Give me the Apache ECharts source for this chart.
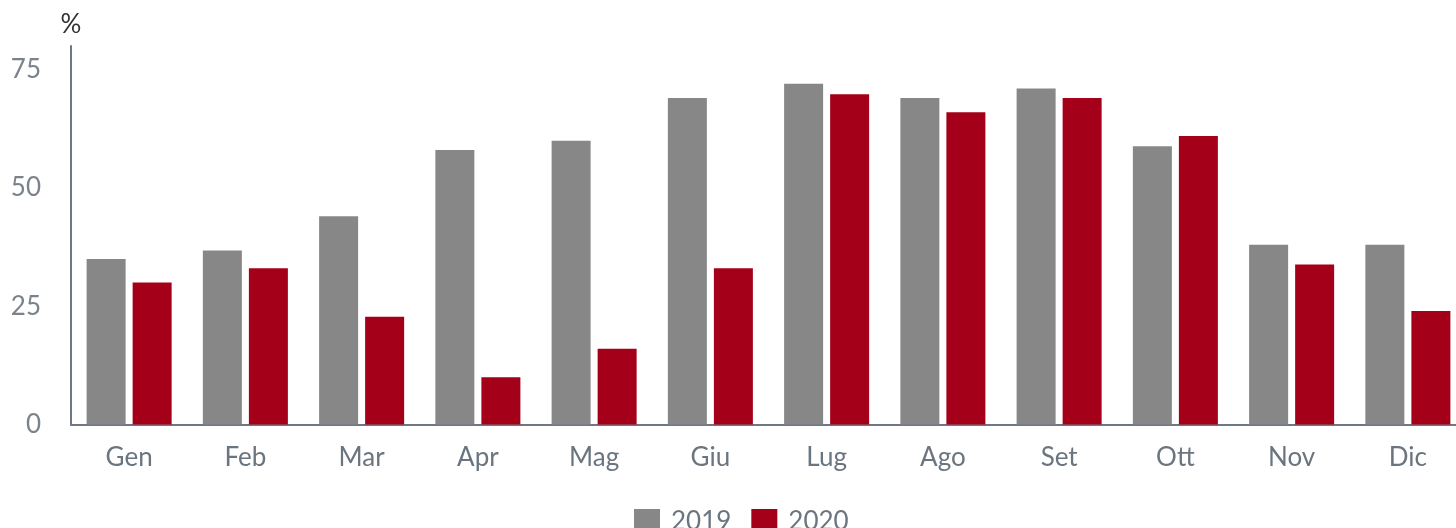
<!DOCTYPE html>
<html><head><meta charset="utf-8">
<script src="https://cdn.jsdelivr.net/npm/echarts@6/dist/echarts.min.js"></script>
<style>html,body{margin:0;padding:0;background:#fff}#c{width:1456px;height:528px}</style>
</head><body><div id="c"></div>
<script>
const categories = ['Gen','Feb','Mar','Apr','Mag','Giu','Lug','Ago','Set','Ott','Nov','Dic'];
const values2019 = [35, 36.8, 44, 58, 60, 69, 72, 69, 71, 58.8, 38, 38];
const values2020 = [30, 33, 22.8, 10, 16, 33, 69.8, 66, 69, 61, 33.8, 24];
const yTicks = [0, 25, 50, 75];

const chart = echarts.init(document.getElementById('c'));
chart.setOption({
  animation: false,
  textStyle: { fontFamily: 'Lato' },
  grid: { left: 71, width: 1395, top: 46, bottom: 103.5, containLabel: false, outerBoundsMode: 'none' },
  legend: {
    left: 629, top: 504, itemWidth: 26, itemHeight: 26, itemGap: 20,
    icon: 'rect',
    textStyle: { fontFamily: 'Lato', fontSize: 26, color: '#6b7580', padding: [0,0,0,6] },
    data: ['2019','2020']
  },
  xAxis: {
    type: 'category', data: categories,
    axisLine: { lineStyle: { color: '#6e7782', width: 2 } },
    axisTick: { show: false },
    axisLabel: { fontFamily: 'Lato', fontSize: 26, color: '#6b7580', margin: 20 }
  },
  yAxis: {
    type: 'value', min: 0, max: 80, interval: 25,
    name: '%', nameLocation: 'end', nameGap: 8,
    nameTextStyle: { fontFamily: 'Lato', fontSize: 26, color: '#333', align: 'center' },
    axisLine: { show: true, lineStyle: { color: '#6e7782', width: 2 } },
    axisTick: { show: false },
    splitLine: { show: false },
    axisLabel: { fontFamily: 'Lato', fontSize: 26, color: '#7a838c', margin: 30, showMaxLabel: false,
      formatter: v => yTicks.includes(v) ? String(v) : '' }
  },
  series: [
    { name: '2019', type: 'bar', data: values2019, barWidth: 39, barGap: '18%', itemStyle: { color: '#878787' } },
    { name: '2020', type: 'bar', data: values2020, barWidth: 39, itemStyle: { color: '#a50019' } }
  ]
});
</script></body></html>
